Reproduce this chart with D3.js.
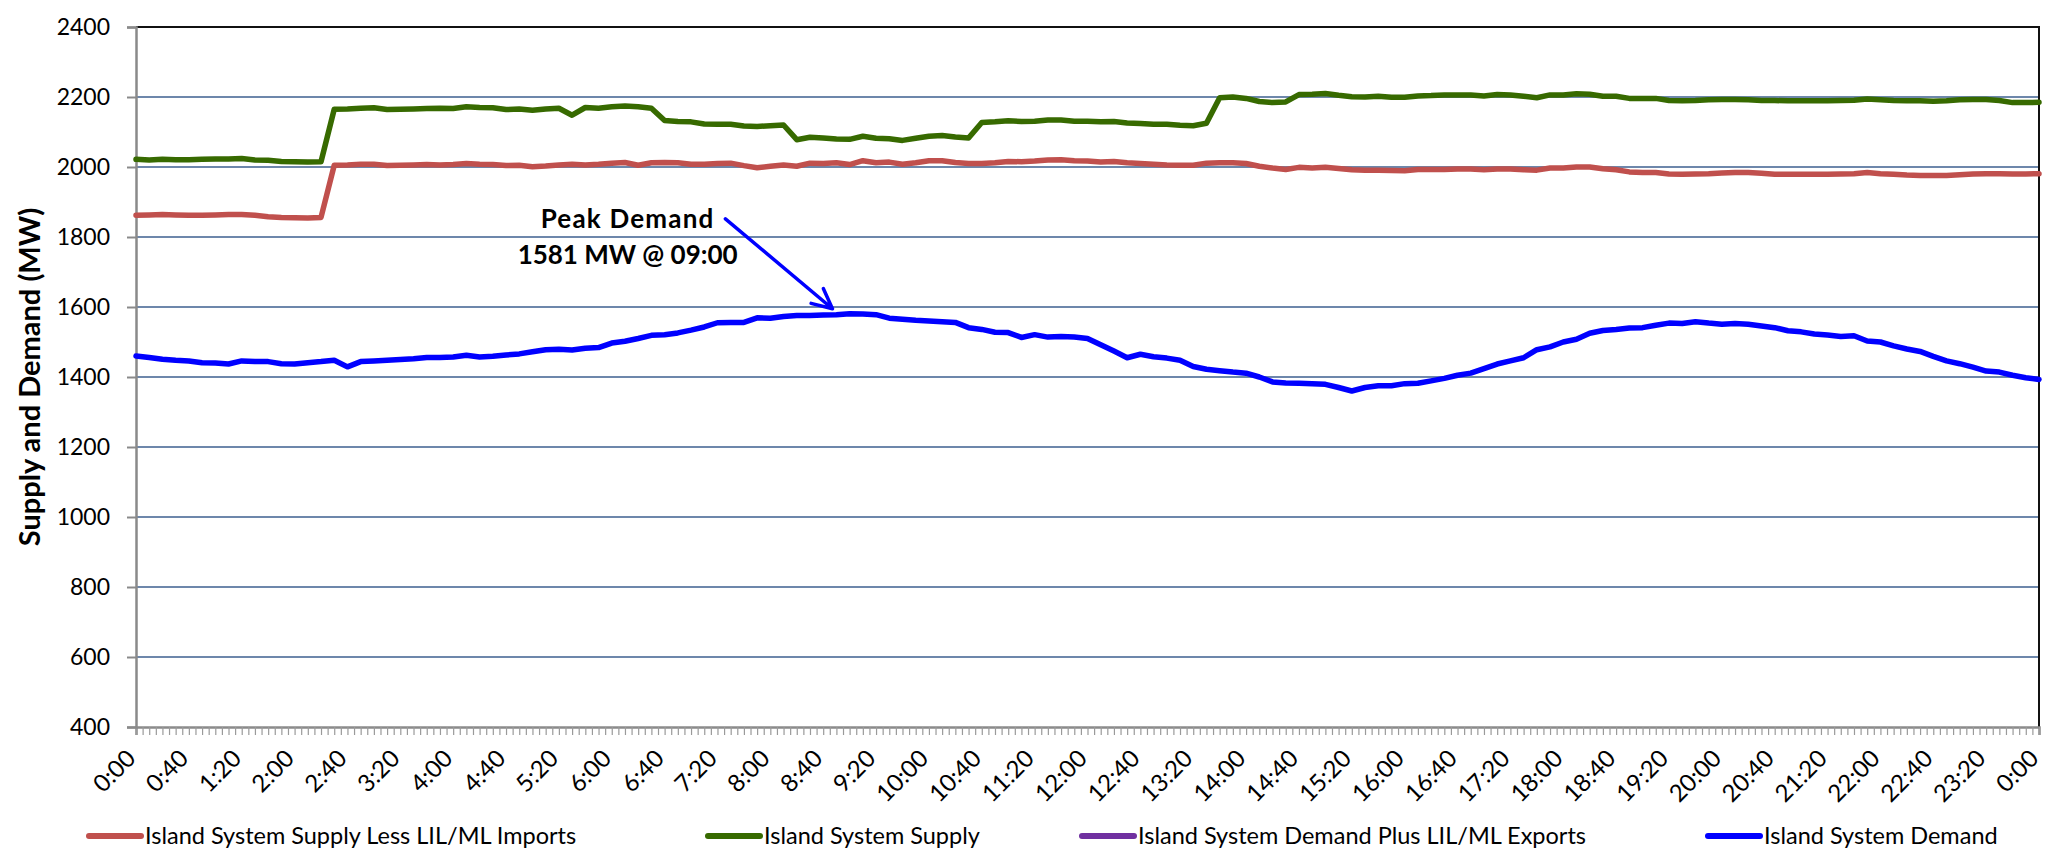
<!DOCTYPE html>
<html>
<head>
<meta charset="utf-8">
<title>island-supply-demand</title>
<script src="https://cdn.jsdelivr.net/npm/d3@7"></script>
<style>
  body { margin: 0; background: #fff; }
  svg text { font-family: Lato, "Open Sans", sans-serif; fill: #000; }
</style>
</head>
<body>
<svg id="chart" width="2045" height="849"></svg>
<script>
// readings every 10 minutes, 0:00 -> 0:00 next day (145 points)
var stepMin = 10;

var supplyLessImports = [
  1862,1863,1864,1863,1862,1862,1863,1864,1864,1862,1858,1856,1855,1854,1856,
  2005,2006,2008,2008,2004,2005,2006,2007,2006,2007,2010,2008,2007,2004,2005,
  2001,2003,2006,2008,2006,2008,2011,2013,2005,2012,2013,2012,2008,2008,2010,
  2011,2004,1998,2002,2006,2002,2011,2010,2012,2007,2018,2012,2014,
  2008,2012,2018,2018,2013,2010,2010,2012,2016,2015,2017,2020,2021,2018,2017,
  2014,2016,2012,2010,2008,2006,2005,2005,2011,2012,2012,2010,2002,1997,
  1993,1999,1997,1999,1996,1992,1991,1991,1990,1989,1993,1993,1993,1994,1994,
  1992,1994,1994,1992,1991,1997,1997,2000,2000,1995,1992,1986,1984,1984,
  1980,1979,1980,1981,1983,1984,1984,1982,1979,1979,1979,1979,1979,1980,1981,
  1984,1981,1979,1977,1976,1976,1976,1978,1980,1981,1981,1980,1980,1981
];

var supply = [
  2022,2020,2022,2021,2021,2022,2023,2023,2024,2020,2019,2016,2015,2014,2015,
  2165,2166,2168,2169,2164,2165,2166,2167,2168,2167,2172,2170,2169,2164,2166,
  2162,2166,2168,2148,2170,2168,2172,2174,2172,2168,2133,2130,2129,2123,2122,
  2122,2117,2116,2118,2120,2078,2085,2083,2080,2079,2088,2082,2081,
  2076,2082,2088,2090,2086,2083,2127,2129,2132,2130,2131,2134,2134,2131,2131,
  2129,2130,2126,2124,2122,2122,2119,2118,2125,2198,2200,2196,2187,2184,
  2186,2207,2208,2210,2205,2201,2200,2202,2199,2199,2203,2204,2206,2206,2206,
  2203,2207,2206,2202,2198,2206,2206,2209,2208,2202,2202,2196,2196,2196,
  2190,2189,2190,2192,2193,2193,2192,2190,2190,2189,2189,2189,2189,2190,2191,
  2194,2192,2190,2189,2189,2188,2189,2192,2193,2193,2190,2184,2184,2185
];

var demand = [
  1460,1456,1451,1448,1446,1441,1440,1437,1446,1444,1444,1438,1437,1441,1444,
  1448,1429,1444,1446,1448,1450,1452,1456,1456,1457,1462,1457,1459,1463,1466,
  1472,1478,1479,1477,1482,1484,1497,1502,1510,1519,1521,1526,1534,1543,1555,
  1556,1556,1569,1568,1573,1576,1576,1577,1578,1581,1580,1578,1568,
  1565,1562,1560,1558,1556,1541,1536,1528,1527,1513,1521,1514,1516,1514,1510,
  1492,1474,1455,1465,1458,1454,1448,1430,1422,1418,1414,1411,1400,1386,
  1383,1382,1381,1379,1370,1360,1370,1375,1375,1381,1382,1389,1396,1405,1411,
  1424,1437,1446,1455,1478,1486,1500,1508,1525,1533,1536,1540,1541,1548,
  1554,1553,1558,1554,1551,1553,1551,1546,1541,1532,1529,1523,1520,1516,1518,
  1503,1500,1489,1480,1473,1459,1446,1438,1428,1417,1414,1405,1398,1393
];

var yTicks = [400, 600, 800, 1000, 1200, 1400, 1600, 1800, 2000, 2200, 2400];
var xLabels = ["0:00","0:40","1:20","2:00","2:40","3:20","4:00","4:40","5:20","6:00",
  "6:40","7:20","8:00","8:40","9:20","10:00","10:40","11:20","12:00","12:40","13:20",
  "14:00","14:40","15:20","16:00","16:40","17:20","18:00","18:40","19:20","20:00",
  "20:40","21:20","22:00","22:40","23:20","0:00"];

var seriesNames = ["Island System Supply Less LIL/ML Imports", "Island System Supply",
  "Island System Demand Plus LIL/ML Exports", "Island System Demand"];
var seriesColors = ["#C0504D", "#376A00", "#7030A0", "#0000FF"];

// ---- layout (plotTop, not "top": that one is window.top)
var plotLeft = 136, plotRight = 2039, plotTop = 27, plotBottom = 727;
var svg = d3.select("#chart");

var x = d3.scaleLinear().domain([0, 1440]).range([plotLeft, plotRight]);
var y = d3.scaleLinear().domain([400, 2400]).range([plotBottom, plotTop]);

// gridlines
svg.append("g").selectAll("line")
  .data(yTicks.filter(function(d){ return d > 400 && d < 2400; }))
  .enter().append("line")
  .attr("x1", plotLeft).attr("x2", plotRight)
  .attr("y1", function(d){ return y(d); }).attr("y2", function(d){ return y(d); })
  .attr("stroke", "#3D5F8F").attr("stroke-width", 1.6);

// plot border (top + right)
svg.append("path")
  .attr("d", "M" + plotLeft + "," + y(2400) + "H" + plotRight + "V" + plotBottom)
  .attr("fill", "none").attr("stroke", "#111").attr("stroke-width", 2);

// x axis: a tick for every 5 minutes
var xAxis = svg.append("g")
  .attr("transform", "translate(0," + plotBottom + ")")
  .call(d3.axisBottom(x).tickValues(d3.range(0, 1441, 5)).tickSize(8).tickFormat(""));
xAxis.select(".domain").attr("stroke", "#8A8A8A").attr("stroke-width", 2.5);
xAxis.selectAll(".tick line").attr("stroke", "#9A9A9A").attr("stroke-width", 1.2);

svg.append("g").selectAll("text")
  .data(xLabels).enter().append("text")
  .attr("transform", function(d, i){ return "translate(" + (x(i * 40) + 1) + "," + 760 + ") rotate(-45)"; })
  .attr("text-anchor", "end")
  .style("font-size", "24px")
  .text(function(d){ return d; });

// y axis
var yAxis = svg.append("g")
  .attr("transform", "translate(" + plotLeft + ",0)")
  .call(d3.axisLeft(y).tickValues(yTicks).tickSize(9).tickPadding(17).tickFormat(d3.format("d")));
yAxis.select(".domain").attr("stroke", "#8A8A8A").attr("stroke-width", 2.5);
yAxis.selectAll(".tick line").attr("stroke", "#8A8A8A").attr("stroke-width", 2);
yAxis.selectAll(".tick text").style("font-size", "23px").style("font-family", "Lato, sans-serif").attr("fill", "#000");

svg.append("text")
  .attr("transform", "translate(40," + ((plotTop + plotBottom) / 2) + ") rotate(-90)")
  .attr("text-anchor", "middle")
  .style("font-size", "29px").style("font-weight", "bold")
  .text("Supply and Demand (MW)");

// lines (exports series sits under the demand line, nothing to draw)
var line = d3.line()
  .x(function(d, i){ return x(i * stepMin); })
  .y(function(d){ return y(d); });

[[supplyLessImports, 0], [supply, 1], [demand, 3]].forEach(function(s){
  svg.append("path")
    .datum(s[0])
    .attr("d", line)
    .attr("fill", "none")
    .attr("stroke", seriesColors[s[1]])
    .attr("stroke-width", 5.5)
    .attr("stroke-linejoin", "round")
    .attr("stroke-linecap", "round");
});

// peak annotation
var noteX = x(372);
svg.append("text").attr("x", noteX).attr("y", y(1827))
  .attr("text-anchor", "middle").style("font-size", "26px").style("font-weight", "bold")
  .style("letter-spacing", "1.2px")
  .text("Peak Demand");
svg.append("text").attr("x", noteX).attr("y", y(1724))
  .attr("text-anchor", "middle").style("font-size", "26px").style("font-weight", "bold")
  .text("1581 MW @ 09:00");

var ax0 = x(446), ay0 = y(1852), ax1 = x(527), ay1 = y(1595);
var ang = Math.atan2(ay1 - ay0, ax1 - ax0), arm = 22, spread = 0.45;
svg.append("path")
  .attr("d", "M" + ax0 + "," + ay0 + "L" + ax1 + "," + ay1 +
    "M" + (ax1 - arm * Math.cos(ang - spread)) + "," + (ay1 - arm * Math.sin(ang - spread)) +
    "L" + ax1 + "," + ay1 +
    "L" + (ax1 - arm * Math.cos(ang + spread)) + "," + (ay1 - arm * Math.sin(ang + spread)))
  .attr("fill", "none").attr("stroke", "#0000FF").attr("stroke-width", 3.5)
  .attr("stroke-linecap", "round").attr("stroke-linejoin", "round");

// legend
var legendX = [89, 708, 1082, 1708], legendY = 836;
var leg = svg.append("g").selectAll("g").data(seriesNames).enter().append("g")
  .attr("transform", function(d, i){ return "translate(" + legendX[i] + "," + legendY + ")"; });
leg.append("line").attr("x1", 0).attr("x2", 52)
  .attr("stroke", function(d, i){ return seriesColors[i]; })
  .attr("stroke-width", 6).attr("stroke-linecap", "round");
leg.append("text").attr("x", 56).attr("dy", "0.35em")
  .style("font-size", "23.5px")
  .text(function(d){ return d; });
</script>
</body>
</html>
